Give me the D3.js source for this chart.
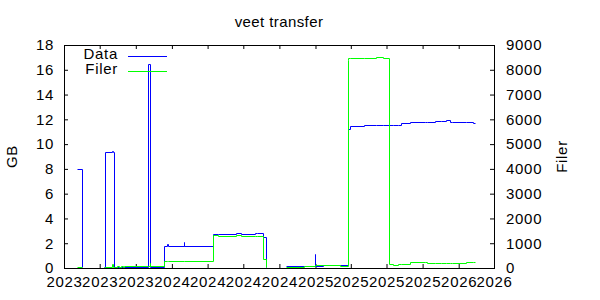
<!DOCTYPE html>
<html>
<head>
<meta charset="utf-8">
<script src="https://cdn.jsdelivr.net/npm/d3@7"></script>
<style>
  body { margin: 0; background: #fff; }
  svg text { font-family: "Liberation Sans", Arial, sans-serif; font-size: 15px; letter-spacing: 0.7px; fill: #000; }
</style>
</head>
<body>
<div id="chart"></div>
<script>
// step data, null = gap in the log
const dates = [
  "2023-05-04", "2023-05-18", "2023-06-01",
  "2023-07-12", "2023-07-15", "2023-08-02", "2023-08-03", "2023-08-07", "2023-08-14", "2023-08-20",
  "2023-08-24", "2023-08-29", "2023-09-02", "2023-11-01", "2023-11-06", "2023-11-07", "2023-12-12",
  "2023-12-20", "2023-12-21", "2024-02-01", "2024-02-02", "2024-04-15", "2024-04-27", "2024-06-12",
  "2024-06-25", "2024-07-30", "2024-08-04", "2024-08-19", "2024-08-21", "2024-08-29", "2024-09-15",
  "2024-10-19", "2024-12-02", "2024-12-31", "2025-01-01", "2025-01-19", "2025-03-04", "2025-03-24",
  "2025-03-26", "2025-03-30", "2025-05-04", "2025-06-04", "2025-06-22", "2025-07-08", "2025-07-18",
  "2025-07-31", "2025-08-06", "2025-08-29", "2025-10-07", "2025-10-13", "2025-11-01", "2025-11-18",
  "2025-11-29", "2025-12-11", "2025-12-14", "2026-01-19", "2026-02-06", "2026-02-11"
];
const gbValues = [
  7.9, 0, null,
  0, 9.27, 9.35, 9.27, 0, 0, 0,
  0, 0, 0, 16.35, 16.35, 0, 1.67,
  1.86, 1.67, 2.04, 1.67, 2.69, 2.69, 2.75,
  2.69, 2.77, 2.72, 2.72, 2.4, 0, null,
  0.05, 0.05, 1.07, 0.05, 0.15, 0.15, 10.75,
  11.1, 11.35, 11.43, 11.43, 11.5, 11.5, 11.5,
  11.5, 11.6, 11.69, 11.69, 11.69, 11.77, 11.77,
  11.85, 11.69, 11.69, 11.69, 11.6, 11.6
];
const fileCounts = [
  10, 0, null,
  0, 0, 120, 0, 0, 30, 0,
  30, 0, 40, 40, 160, 40, 230,
  230, 230, 230, 230, 1300, 1250, 1300,
  1250, 1250, 1250, 320, 320, 0, null,
  10, 40, 90, 90, 90, 40, 8350,
  8430, 8430, 8430, 8470, 8430, 121, 95,
  121, 121, 190, 215, 160, 160, 170,
  170, 170, 145, 182, 182, 182
];

const xDomain = ["2023-04-01", "2026-04-01"];
const gbTicks = [0, 2, 4, 6, 8, 10, 12, 14, 16, 18];
const fileTicks = [0, 1000, 2000, 3000, 4000, 5000, 6000, 7000, 8000, 9000];
const seriesNames = ["Data", "Filer"];
const seriesColors = ["#0000ff", "#00ff00"];

const width = 600;
const height = 300;
const plotLeft = 64, plotRight = 494, plotTop = 45, plotBottom = 268;

const svg = d3.select("#chart").append("svg").attr("width", width).attr("height", height);

const parse = d3.utcParse("%Y-%m-%d");
const rows = dates.map((d, i) => ({ date: parse(d), gb: gbValues[i], files: fileCounts[i] }));

const x = d3.scaleUtc().domain(xDomain.map(parse)).range([plotLeft, plotRight]);
const yGB = d3.scaleLinear().domain([0, 18]).range([plotBottom, plotTop]);
const yFiles = d3.scaleLinear().domain([0, 9000]).range([plotBottom, plotTop]);

// title + axis titles
svg.append("text").attr("x", (plotLeft + plotRight) / 2).attr("y", 27)
  .attr("text-anchor", "middle").style("letter-spacing", "0.4px").text("veet transfer");
svg.append("text").attr("transform", `translate(17,${(plotTop + plotBottom) / 2}) rotate(-90)`)
  .attr("text-anchor", "middle").text("GB");
svg.append("text").attr("transform", `translate(567,${(plotTop + plotBottom) / 2}) rotate(-90)`)
  .attr("text-anchor", "middle").text("Filer");

// axes, ticks pointing inwards
const xTicks = d3.utcMonth.every(3);
svg.append("g").attr("transform", `translate(0,${plotBottom})`)
  .call(d3.axisBottom(x).ticks(xTicks).tickFormat(d3.utcFormat("%Y")).tickSize(-4).tickPadding(8));
svg.append("g").attr("transform", `translate(0,${plotTop})`)
  .call(d3.axisTop(x).ticks(xTicks).tickFormat("").tickSize(-4));
svg.append("g").attr("transform", `translate(${plotLeft},0)`)
  .call(d3.axisLeft(yGB).tickValues(gbTicks).tickSize(-4).tickPadding(10));
svg.append("g").attr("transform", `translate(${plotRight},0)`)
  .call(d3.axisRight(yFiles).tickValues(fileTicks).tickFormat(d3.format("d")).tickSize(-4).tickPadding(12));

svg.selectAll(".domain").remove();
svg.selectAll(".tick text").attr("font-family", null).attr("font-size", null);
svg.selectAll(".tick line").attr("stroke", "#000");

svg.append("rect")
  .attr("x", plotLeft + 0.5).attr("y", plotTop + 0.5)
  .attr("width", plotRight - plotLeft).attr("height", plotBottom - plotTop)
  .attr("fill", "none").attr("stroke", "#000");

// series
const gbLine = d3.line()
  .defined(d => d.gb !== null)
  .x(d => Math.round(x(d.date)) + 0.5)
  .y(d => Math.round(yGB(d.gb)) - 0.5)
  .curve(d3.curveStepAfter);

const filesLine = d3.line()
  .defined(d => d.files !== null)
  .x(d => Math.round(x(d.date)) + 0.5)
  .y(d => Math.round(yFiles(d.files)) - 0.5)
  .curve(d3.curveStepAfter);

svg.append("path").datum(rows).attr("d", gbLine)
  .attr("fill", "none").attr("stroke", seriesColors[0]).attr("stroke-width", 1);
svg.append("path").datum(rows).attr("d", filesLine)
  .attr("fill", "none").attr("stroke", seriesColors[1]).attr("stroke-width", 1);

// legend
const legend = svg.append("g");
seriesNames.forEach((name, i) => {
  const ly = 56 + i * 15;
  legend.append("text").attr("x", 118).attr("y", ly + 3).attr("text-anchor", "end").text(name);
  legend.append("line")
    .attr("x1", 128).attr("x2", 167).attr("y1", ly + 0.5).attr("y2", ly + 0.5)
    .attr("stroke", seriesColors[i]);
});
</script>
</body>
</html>
